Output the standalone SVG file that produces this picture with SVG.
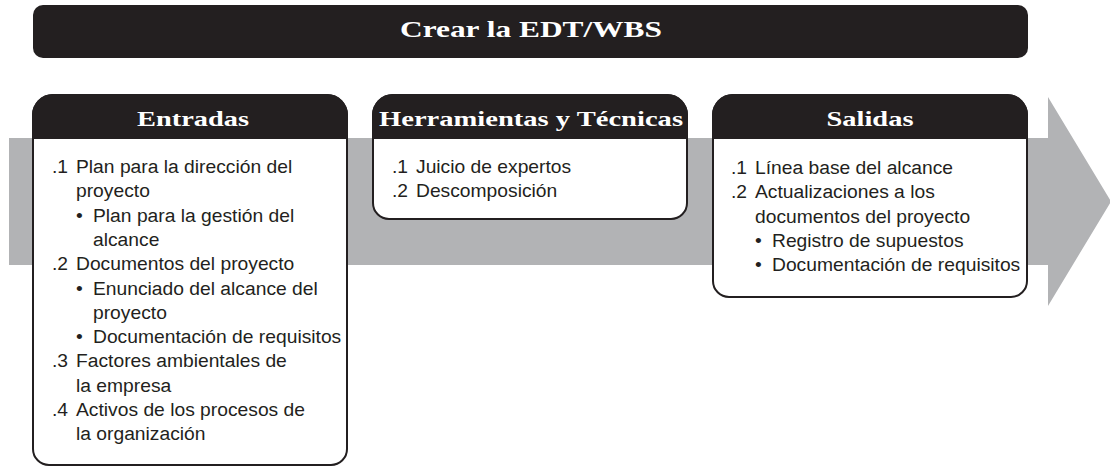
<svg xmlns="http://www.w3.org/2000/svg" width="1110" height="468" viewBox="0 0 1110 468">
<style>
.hd{font-family:"Liberation Serif","DejaVu Serif",serif;font-weight:bold;font-size:22px;fill:#ffffff;text-anchor:middle}
.tt{font-family:"Liberation Serif","DejaVu Serif",serif;font-weight:bold;font-size:23.5px;fill:#ffffff;text-anchor:middle}
.t{font-family:"Liberation Sans",Arial,sans-serif;font-size:19.25px;fill:#231f20}
.box{fill:#ffffff;stroke:#231f20;stroke-width:2}
.hdr{fill:#231f20}
</style>
<rect width="1110" height="468" fill="#ffffff"/>
<g id="connectors">
<polygon points="9,138 1048,138 1048,97 1111,201.5 1048,306 1048,265 9,265" fill="#b2b3b5"/>
</g>
<g id="title">
<rect x="33" y="5" width="995" height="53" rx="10" ry="10" fill="#231f20"/>
<text class="tt" x="531" y="37" textLength="262" lengthAdjust="spacingAndGlyphs">Crear la EDT/WBS</text>
</g>
<g id="entradas">
<path class="box" d="M33,139 V115 A20,20 0 0 1 53,95 H327 A20,20 0 0 1 347,115 V449 A16,16 0 0 1 331,465 H49 A16,16 0 0 1 33,449 Z"/>
<path class="hdr" d="M32,139 V115 A21,21 0 0 1 53,94 H327 A21,21 0 0 1 348,115 V139 Z"/>
<text class="hd" x="193" y="126" textLength="112" lengthAdjust="spacingAndGlyphs">Entradas</text>
<text class="t" x="52" y="173">.1</text><text class="t" x="76" y="173">Plan para la dirección del</text>
<text class="t" x="76" y="197.3">proyecto</text>
<text class="t" x="76" y="221.6">•</text><text class="t" x="93" y="221.6">Plan para la gestión del</text>
<text class="t" x="93" y="245.9">alcance</text>
<text class="t" x="52" y="270.2">.2</text><text class="t" x="76" y="270.2">Documentos del proyecto</text>
<text class="t" x="76" y="294.5">•</text><text class="t" x="93" y="294.5">Enunciado del alcance del</text>
<text class="t" x="93" y="318.8">proyecto</text>
<text class="t" x="76" y="343.1">•</text><text class="t" x="93" y="343.1">Documentación de requisitos</text>
<text class="t" x="52" y="367.4">.3</text><text class="t" x="76" y="367.4">Factores ambientales de</text>
<text class="t" x="76" y="391.7">la empresa</text>
<text class="t" x="52" y="416">.4</text><text class="t" x="76" y="416">Activos de los procesos de</text>
<text class="t" x="76" y="440.3">la organización</text>
</g>
<g id="herramientas">
<path class="box" d="M373,139 V115 A20,20 0 0 1 393,95 H667 A20,20 0 0 1 687,115 V203 A16,16 0 0 1 671,219 H389 A16,16 0 0 1 373,203 Z"/>
<path class="hdr" d="M372,139 V115 A21,21 0 0 1 393,94 H667 A21,21 0 0 1 688,115 V139 Z"/>
<text class="hd" x="531" y="126" textLength="304" lengthAdjust="spacingAndGlyphs">Herramientas y Técnicas</text>
<text class="t" x="392" y="173">.1</text><text class="t" x="416" y="173">Juicio de expertos</text>
<text class="t" x="392" y="197.3">.2</text><text class="t" x="416" y="197.3">Descomposición</text>
</g>
<g id="salidas">
<path class="box" d="M713,139 V115 A20,20 0 0 1 733,95 H1007 A20,20 0 0 1 1027,115 V281 A16,16 0 0 1 1011,297 H729 A16,16 0 0 1 713,281 Z"/>
<path class="hdr" d="M712,139 V115 A21,21 0 0 1 733,94 H1007 A21,21 0 0 1 1028,115 V139 Z"/>
<text class="hd" x="870" y="126" textLength="87" lengthAdjust="spacingAndGlyphs">Salidas</text>
<text class="t" x="731" y="174">.1</text><text class="t" x="755" y="174">Línea base del alcance</text>
<text class="t" x="731" y="198.3">.2</text><text class="t" x="755" y="198.3">Actualizaciones a los</text>
<text class="t" x="755" y="222.6">documentos del proyecto</text>
<text class="t" x="755" y="246.9">•</text><text class="t" x="772" y="246.9">Registro de supuestos</text>
<text class="t" x="755" y="271.2">•</text><text class="t" x="772" y="271.2">Documentación de requisitos</text>
</g>
</svg>
